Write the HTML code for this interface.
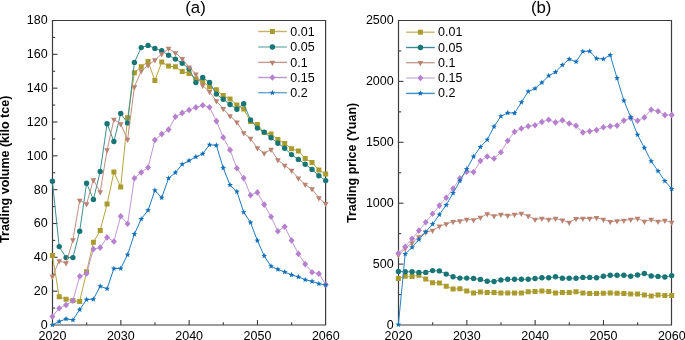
<!DOCTYPE html>
<html><head><meta charset="utf-8"><title>chart</title>
<style>
html,body{margin:0;padding:0;background:#fff;overflow:hidden;}
svg{display:block;will-change:transform;}
</style></head><body>
<svg width="685" height="340" viewBox="0 0 685 340">
<rect width="685" height="340" fill="#fff"/>
<g font-family='"Liberation Sans", sans-serif' font-size="12.5" fill="#000">
<g stroke="#3c3c3c" stroke-width="1.2" fill="none">
<path d="M52.5,20.5 H325.6 V325.0 H52.5 Z"/>
</g>
<g stroke="#3c3c3c" stroke-width="1.1">
<line x1="86.66" y1="325.0" x2="86.66" y2="322.3"/>
<line x1="120.83" y1="325.0" x2="120.83" y2="320.0"/>
<line x1="154.99" y1="325.0" x2="154.99" y2="322.3"/>
<line x1="189.15" y1="325.0" x2="189.15" y2="320.0"/>
<line x1="223.31" y1="325.0" x2="223.31" y2="322.3"/>
<line x1="257.48" y1="325.0" x2="257.48" y2="320.0"/>
<line x1="291.64" y1="325.0" x2="291.64" y2="322.3"/>
</g>
<text x="52.50" y="339.6" text-anchor="middle">2020</text>
<text x="120.83" y="339.6" text-anchor="middle">2030</text>
<text x="189.15" y="339.6" text-anchor="middle">2040</text>
<text x="257.48" y="339.6" text-anchor="middle">2050</text>
<text x="325.80" y="339.6" text-anchor="middle">2060</text>
<g stroke="#3c3c3c" stroke-width="1.1">
<line x1="52.5" y1="308.08" x2="55.2" y2="308.08"/>
<line x1="52.5" y1="291.17" x2="57.5" y2="291.17"/>
<line x1="52.5" y1="274.25" x2="55.2" y2="274.25"/>
<line x1="52.5" y1="257.33" x2="57.5" y2="257.33"/>
<line x1="52.5" y1="240.42" x2="55.2" y2="240.42"/>
<line x1="52.5" y1="223.50" x2="57.5" y2="223.50"/>
<line x1="52.5" y1="206.58" x2="55.2" y2="206.58"/>
<line x1="52.5" y1="189.67" x2="57.5" y2="189.67"/>
<line x1="52.5" y1="172.75" x2="55.2" y2="172.75"/>
<line x1="52.5" y1="155.83" x2="57.5" y2="155.83"/>
<line x1="52.5" y1="138.92" x2="55.2" y2="138.92"/>
<line x1="52.5" y1="122.00" x2="57.5" y2="122.00"/>
<line x1="52.5" y1="105.08" x2="55.2" y2="105.08"/>
<line x1="52.5" y1="88.17" x2="57.5" y2="88.17"/>
<line x1="52.5" y1="71.25" x2="55.2" y2="71.25"/>
<line x1="52.5" y1="54.33" x2="57.5" y2="54.33"/>
<line x1="52.5" y1="37.42" x2="55.2" y2="37.42"/>
</g>
<text x="47.70" y="329.30" text-anchor="end">0</text>
<text x="47.70" y="295.36" text-anchor="end">20</text>
<text x="47.70" y="261.41" text-anchor="end">40</text>
<text x="47.70" y="227.47" text-anchor="end">60</text>
<text x="47.70" y="193.52" text-anchor="end">80</text>
<text x="47.70" y="159.58" text-anchor="end">100</text>
<text x="47.70" y="125.63" text-anchor="end">120</text>
<text x="47.70" y="91.69" text-anchor="end">140</text>
<text x="47.70" y="57.74" text-anchor="end">160</text>
<text x="47.70" y="23.80" text-anchor="end">180</text>
<line x1="258.2" y1="31.5" x2="286.9" y2="31.5" stroke="#c3b464" stroke-width="1.4" stroke-opacity="1.0"/>
<path fill="#ab9b2e" d="M269.90,29.00h5v5h-5Z"/>
<text x="290.3" y="35.90">0.01</text>
<line x1="258.2" y1="47.0" x2="286.9" y2="47.0" stroke="#7db4b4" stroke-width="1.4" stroke-opacity="1.0"/>
<path fill="#177575" d="M269.70,47.00a2.7,2.7 0 1,0 5.4,0a2.7,2.7 0 1,0 -5.4,0Z"/>
<text x="290.3" y="51.40">0.05</text>
<line x1="258.2" y1="62.4" x2="286.9" y2="62.4" stroke="#c39b8c" stroke-width="1.4" stroke-opacity="1.0"/>
<path fill="#ba8270" d="M269.55,60.65L275.25,60.65L272.40,65.90Z"/>
<text x="290.3" y="66.80">0.1</text>
<line x1="258.2" y1="77.5" x2="286.9" y2="77.5" stroke="#b996cd" stroke-width="1.4" stroke-opacity="1.0"/>
<path fill="#b680cf" d="M272.40,74.20L275.40,77.50L272.40,80.80L269.40,77.50Z"/>
<text x="290.3" y="81.90">0.15</text>
<line x1="258.2" y1="92.7" x2="286.9" y2="92.7" stroke="#64a5d2" stroke-width="1.4" stroke-opacity="1.0"/>
<path fill="#1270b9" d="M272.40,89.65L273.16,91.65L275.30,91.76L273.64,93.10L274.19,95.17L272.40,94.00L270.61,95.17L271.16,93.10L269.50,91.76L271.64,91.65Z"/>
<text x="290.3" y="97.10">0.2</text>
<path d="M52.4,255.4 L59.2,296.7 L66.1,299.2 L72.9,300.6 L79.7,301.4 L86.6,271.7 L93.4,242.2 L100.2,230.5 L107.1,204.0 L113.9,172.0 L120.7,187.1 L127.6,117.8 L134.4,72.7 L141.2,66.8 L148.1,61.6 L154.9,80.5 L161.7,62.1 L168.6,66.1 L175.4,66.8 L182.2,71.6 L189.1,73.5 L195.9,79.0 L202.7,81.6 L209.5,87.1 L216.4,89.7 L223.2,95.6 L230.0,98.9 L236.9,105.0 L243.7,109.0 L250.5,121.5 L257.4,124.4 L264.2,132.5 L271.0,134.0 L277.9,139.5 L284.7,143.5 L291.5,148.8 L298.4,150.9 L305.2,158.5 L312.0,162.5 L318.9,170.0 L325.7,174.0" fill="none" stroke="#b8a63c" stroke-width="1.0" stroke-opacity="1.0" stroke-linejoin="round"/>
<path fill="#ab9b2e" d="M49.90,252.90h5v5h-5ZM56.73,294.20h5v5h-5ZM63.56,296.70h5v5h-5ZM70.40,298.10h5v5h-5ZM77.23,298.90h5v5h-5ZM84.06,269.20h5v5h-5ZM90.90,239.70h5v5h-5ZM97.73,228.00h5v5h-5ZM104.56,201.50h5v5h-5ZM111.39,169.50h5v5h-5ZM118.22,184.60h5v5h-5ZM125.06,115.30h5v5h-5ZM131.89,70.20h5v5h-5ZM138.72,64.30h5v5h-5ZM145.56,59.10h5v5h-5ZM152.39,78.00h5v5h-5ZM159.22,59.60h5v5h-5ZM166.05,63.60h5v5h-5ZM172.89,64.30h5v5h-5ZM179.72,69.10h5v5h-5ZM186.55,71.00h5v5h-5ZM193.38,76.50h5v5h-5ZM200.22,79.10h5v5h-5ZM207.05,84.60h5v5h-5ZM213.88,87.20h5v5h-5ZM220.71,93.10h5v5h-5ZM227.55,96.40h5v5h-5ZM234.38,102.50h5v5h-5ZM241.21,106.50h5v5h-5ZM248.04,119.00h5v5h-5ZM254.88,121.90h5v5h-5ZM261.71,130.00h5v5h-5ZM268.54,131.50h5v5h-5ZM275.37,137.00h5v5h-5ZM282.20,141.00h5v5h-5ZM289.04,146.30h5v5h-5ZM295.87,148.40h5v5h-5ZM302.70,156.00h5v5h-5ZM309.53,160.00h5v5h-5ZM316.37,167.50h5v5h-5ZM323.20,171.50h5v5h-5Z"/>
<path d="M52.4,181.2 L59.2,246.6 L66.1,257.6 L72.9,257.6 L79.7,231.2 L86.6,183.3 L93.4,199.5 L100.2,171.5 L107.1,123.7 L113.9,141.5 L120.7,113.5 L127.6,122.9 L134.4,62.4 L141.2,47.6 L148.1,45.4 L154.9,48.4 L161.7,50.8 L168.6,55.2 L175.4,59.1 L182.2,63.2 L189.1,68.7 L195.9,82.6 L202.7,77.5 L209.5,82.5 L216.4,94.1 L223.2,99.3 L230.0,104.5 L236.9,109.2 L243.7,103.8 L250.5,120.0 L257.4,128.1 L264.2,132.1 L271.0,137.8 L277.9,143.2 L284.7,148.3 L291.5,154.6 L298.4,159.4 L305.2,164.3 L312.0,169.4 L318.9,175.8 L325.7,180.6" fill="none" stroke="#3f8f8f" stroke-width="1.0" stroke-opacity="1.0" stroke-linejoin="round"/>
<path fill="#177575" d="M49.70,181.20a2.7,2.7 0 1,0 5.4,0a2.7,2.7 0 1,0 -5.4,0ZM56.53,246.60a2.7,2.7 0 1,0 5.4,0a2.7,2.7 0 1,0 -5.4,0ZM63.36,257.60a2.7,2.7 0 1,0 5.4,0a2.7,2.7 0 1,0 -5.4,0ZM70.20,257.60a2.7,2.7 0 1,0 5.4,0a2.7,2.7 0 1,0 -5.4,0ZM77.03,231.20a2.7,2.7 0 1,0 5.4,0a2.7,2.7 0 1,0 -5.4,0ZM83.86,183.30a2.7,2.7 0 1,0 5.4,0a2.7,2.7 0 1,0 -5.4,0ZM90.70,199.50a2.7,2.7 0 1,0 5.4,0a2.7,2.7 0 1,0 -5.4,0ZM97.53,171.50a2.7,2.7 0 1,0 5.4,0a2.7,2.7 0 1,0 -5.4,0ZM104.36,123.70a2.7,2.7 0 1,0 5.4,0a2.7,2.7 0 1,0 -5.4,0ZM111.19,141.50a2.7,2.7 0 1,0 5.4,0a2.7,2.7 0 1,0 -5.4,0ZM118.02,113.50a2.7,2.7 0 1,0 5.4,0a2.7,2.7 0 1,0 -5.4,0ZM124.86,122.90a2.7,2.7 0 1,0 5.4,0a2.7,2.7 0 1,0 -5.4,0ZM131.69,62.40a2.7,2.7 0 1,0 5.4,0a2.7,2.7 0 1,0 -5.4,0ZM138.52,47.60a2.7,2.7 0 1,0 5.4,0a2.7,2.7 0 1,0 -5.4,0ZM145.36,45.40a2.7,2.7 0 1,0 5.4,0a2.7,2.7 0 1,0 -5.4,0ZM152.19,48.40a2.7,2.7 0 1,0 5.4,0a2.7,2.7 0 1,0 -5.4,0ZM159.02,50.80a2.7,2.7 0 1,0 5.4,0a2.7,2.7 0 1,0 -5.4,0ZM165.85,55.20a2.7,2.7 0 1,0 5.4,0a2.7,2.7 0 1,0 -5.4,0ZM172.69,59.10a2.7,2.7 0 1,0 5.4,0a2.7,2.7 0 1,0 -5.4,0ZM179.52,63.20a2.7,2.7 0 1,0 5.4,0a2.7,2.7 0 1,0 -5.4,0ZM186.35,68.70a2.7,2.7 0 1,0 5.4,0a2.7,2.7 0 1,0 -5.4,0ZM193.18,82.60a2.7,2.7 0 1,0 5.4,0a2.7,2.7 0 1,0 -5.4,0ZM200.02,77.50a2.7,2.7 0 1,0 5.4,0a2.7,2.7 0 1,0 -5.4,0ZM206.85,82.50a2.7,2.7 0 1,0 5.4,0a2.7,2.7 0 1,0 -5.4,0ZM213.68,94.10a2.7,2.7 0 1,0 5.4,0a2.7,2.7 0 1,0 -5.4,0ZM220.51,99.30a2.7,2.7 0 1,0 5.4,0a2.7,2.7 0 1,0 -5.4,0ZM227.35,104.50a2.7,2.7 0 1,0 5.4,0a2.7,2.7 0 1,0 -5.4,0ZM234.18,109.20a2.7,2.7 0 1,0 5.4,0a2.7,2.7 0 1,0 -5.4,0ZM241.01,103.80a2.7,2.7 0 1,0 5.4,0a2.7,2.7 0 1,0 -5.4,0ZM247.84,120.00a2.7,2.7 0 1,0 5.4,0a2.7,2.7 0 1,0 -5.4,0ZM254.68,128.10a2.7,2.7 0 1,0 5.4,0a2.7,2.7 0 1,0 -5.4,0ZM261.51,132.10a2.7,2.7 0 1,0 5.4,0a2.7,2.7 0 1,0 -5.4,0ZM268.34,137.80a2.7,2.7 0 1,0 5.4,0a2.7,2.7 0 1,0 -5.4,0ZM275.17,143.20a2.7,2.7 0 1,0 5.4,0a2.7,2.7 0 1,0 -5.4,0ZM282.00,148.30a2.7,2.7 0 1,0 5.4,0a2.7,2.7 0 1,0 -5.4,0ZM288.84,154.60a2.7,2.7 0 1,0 5.4,0a2.7,2.7 0 1,0 -5.4,0ZM295.67,159.40a2.7,2.7 0 1,0 5.4,0a2.7,2.7 0 1,0 -5.4,0ZM302.50,164.30a2.7,2.7 0 1,0 5.4,0a2.7,2.7 0 1,0 -5.4,0ZM309.33,169.40a2.7,2.7 0 1,0 5.4,0a2.7,2.7 0 1,0 -5.4,0ZM316.17,175.80a2.7,2.7 0 1,0 5.4,0a2.7,2.7 0 1,0 -5.4,0ZM323.00,180.60a2.7,2.7 0 1,0 5.4,0a2.7,2.7 0 1,0 -5.4,0Z"/>
<path d="M52.4,276.5 L59.2,261.0 L66.1,263.1 L72.9,240.0 L79.7,200.4 L86.6,204.0 L93.4,179.9 L100.2,192.1 L107.1,150.0 L113.9,119.4 L120.7,124.1 L127.6,139.6 L134.4,86.9 L141.2,71.1 L148.1,65.3 L154.9,60.1 L161.7,54.0 L168.6,48.6 L175.4,52.9 L182.2,58.8 L189.1,67.2 L195.9,74.2 L202.7,85.6 L209.5,91.8 L216.4,101.0 L223.2,108.8 L230.0,116.0 L236.9,122.2 L243.7,132.9 L250.5,138.6 L257.4,148.0 L264.2,153.2 L271.0,149.5 L277.9,160.0 L284.7,165.4 L291.5,170.6 L298.4,178.2 L305.2,184.4 L312.0,189.1 L318.9,197.9 L325.7,203.8" fill="none" stroke="#c08e80" stroke-width="1.0" stroke-opacity="1.0" stroke-linejoin="round"/>
<path fill="#ba8270" d="M49.55,274.75L55.25,274.75L52.40,280.00ZM56.38,259.25L62.08,259.25L59.23,264.50ZM63.21,261.35L68.91,261.35L66.06,266.60ZM70.05,238.25L75.75,238.25L72.90,243.50ZM76.88,198.65L82.58,198.65L79.73,203.90ZM83.71,202.25L89.41,202.25L86.56,207.50ZM90.55,178.15L96.25,178.15L93.40,183.40ZM97.38,190.35L103.08,190.35L100.23,195.60ZM104.21,148.25L109.91,148.25L107.06,153.50ZM111.04,117.65L116.74,117.65L113.89,122.90ZM117.88,122.35L123.57,122.35L120.72,127.60ZM124.71,137.85L130.41,137.85L127.56,143.10ZM131.54,85.15L137.24,85.15L134.39,90.40ZM138.37,69.35L144.07,69.35L141.22,74.60ZM145.21,63.55L150.91,63.55L148.06,68.80ZM152.04,58.35L157.74,58.35L154.89,63.60ZM158.87,52.25L164.57,52.25L161.72,57.50ZM165.70,46.85L171.40,46.85L168.55,52.10ZM172.54,51.15L178.24,51.15L175.39,56.40ZM179.37,57.05L185.07,57.05L182.22,62.30ZM186.20,65.45L191.90,65.45L189.05,70.70ZM193.03,72.45L198.73,72.45L195.88,77.70ZM199.87,83.85L205.56,83.85L202.72,89.10ZM206.70,90.05L212.40,90.05L209.55,95.30ZM213.53,99.25L219.23,99.25L216.38,104.50ZM220.36,107.05L226.06,107.05L223.21,112.30ZM227.20,114.25L232.90,114.25L230.05,119.50ZM234.03,120.45L239.73,120.45L236.88,125.70ZM240.86,131.15L246.56,131.15L243.71,136.40ZM247.69,136.85L253.39,136.85L250.54,142.10ZM254.53,146.25L260.23,146.25L257.38,151.50ZM261.36,151.45L267.06,151.45L264.21,156.70ZM268.19,147.75L273.89,147.75L271.04,153.00ZM275.02,158.25L280.72,158.25L277.87,163.50ZM281.85,163.65L287.56,163.65L284.70,168.90ZM288.69,168.85L294.39,168.85L291.54,174.10ZM295.52,176.45L301.22,176.45L298.37,181.70ZM302.35,182.65L308.05,182.65L305.20,187.90ZM309.18,187.35L314.88,187.35L312.03,192.60ZM316.02,196.15L321.72,196.15L318.87,201.40ZM322.85,202.05L328.55,202.05L325.70,207.30Z"/>
<path d="M52.4,316.5 L59.2,308.3 L66.1,305.0 L72.9,300.8 L79.7,276.3 L86.6,273.5 L93.4,249.1 L100.2,247.6 L107.1,237.4 L113.9,241.5 L120.7,216.2 L127.6,223.8 L134.4,178.2 L141.2,172.4 L148.1,167.5 L154.9,140.0 L161.7,134.1 L168.6,129.6 L175.4,116.8 L182.2,112.9 L189.1,110.0 L195.9,107.4 L202.7,105.2 L209.5,107.3 L216.4,121.1 L223.2,137.4 L230.0,149.9 L236.9,168.3 L243.7,178.1 L250.5,195.2 L257.4,192.4 L264.2,204.6 L271.0,216.8 L277.9,231.3 L284.7,226.7 L291.5,240.4 L298.4,253.9 L305.2,264.1 L312.0,272.2 L318.9,273.7 L325.7,284.4" fill="none" stroke="#c196d8" stroke-width="1.0" stroke-opacity="1.0" stroke-linejoin="round"/>
<path fill="#b680cf" d="M52.40,313.20L55.40,316.50L52.40,319.80L49.40,316.50ZM59.23,305.00L62.23,308.30L59.23,311.60L56.23,308.30ZM66.06,301.70L69.06,305.00L66.06,308.30L63.06,305.00ZM72.90,297.50L75.90,300.80L72.90,304.10L69.90,300.80ZM79.73,273.00L82.73,276.30L79.73,279.60L76.73,276.30ZM86.56,270.20L89.56,273.50L86.56,276.80L83.56,273.50ZM93.40,245.80L96.40,249.10L93.40,252.40L90.40,249.10ZM100.23,244.30L103.23,247.60L100.23,250.90L97.23,247.60ZM107.06,234.10L110.06,237.40L107.06,240.70L104.06,237.40ZM113.89,238.20L116.89,241.50L113.89,244.80L110.89,241.50ZM120.72,212.90L123.72,216.20L120.72,219.50L117.72,216.20ZM127.56,220.50L130.56,223.80L127.56,227.10L124.56,223.80ZM134.39,174.90L137.39,178.20L134.39,181.50L131.39,178.20ZM141.22,169.10L144.22,172.40L141.22,175.70L138.22,172.40ZM148.06,164.20L151.06,167.50L148.06,170.80L145.06,167.50ZM154.89,136.70L157.89,140.00L154.89,143.30L151.89,140.00ZM161.72,130.80L164.72,134.10L161.72,137.40L158.72,134.10ZM168.55,126.30L171.55,129.60L168.55,132.90L165.55,129.60ZM175.39,113.50L178.39,116.80L175.39,120.10L172.39,116.80ZM182.22,109.60L185.22,112.90L182.22,116.20L179.22,112.90ZM189.05,106.70L192.05,110.00L189.05,113.30L186.05,110.00ZM195.88,104.10L198.88,107.40L195.88,110.70L192.88,107.40ZM202.72,101.90L205.72,105.20L202.72,108.50L199.72,105.20ZM209.55,104.00L212.55,107.30L209.55,110.60L206.55,107.30ZM216.38,117.80L219.38,121.10L216.38,124.40L213.38,121.10ZM223.21,134.10L226.21,137.40L223.21,140.70L220.21,137.40ZM230.05,146.60L233.05,149.90L230.05,153.20L227.05,149.90ZM236.88,165.00L239.88,168.30L236.88,171.60L233.88,168.30ZM243.71,174.80L246.71,178.10L243.71,181.40L240.71,178.10ZM250.54,191.90L253.54,195.20L250.54,198.50L247.54,195.20ZM257.38,189.10L260.38,192.40L257.38,195.70L254.38,192.40ZM264.21,201.30L267.21,204.60L264.21,207.90L261.21,204.60ZM271.04,213.50L274.04,216.80L271.04,220.10L268.04,216.80ZM277.87,228.00L280.87,231.30L277.87,234.60L274.87,231.30ZM284.70,223.40L287.70,226.70L284.70,230.00L281.70,226.70ZM291.54,237.10L294.54,240.40L291.54,243.70L288.54,240.40ZM298.37,250.60L301.37,253.90L298.37,257.20L295.37,253.90ZM305.20,260.80L308.20,264.10L305.20,267.40L302.20,264.10ZM312.03,268.90L315.03,272.20L312.03,275.50L309.03,272.20ZM318.87,270.40L321.87,273.70L318.87,277.00L315.87,273.70ZM325.70,281.10L328.70,284.40L325.70,287.70L322.70,284.40Z"/>
<path d="M52.4,324.9 L59.2,321.5 L66.1,318.9 L72.9,320.0 L79.7,309.6 L86.6,299.6 L93.4,299.2 L100.2,286.2 L107.1,288.8 L113.9,268.5 L120.7,268.5 L127.6,254.7 L134.4,234.1 L141.2,219.0 L148.1,210.3 L154.9,190.4 L161.7,197.7 L168.6,178.2 L175.4,172.6 L182.2,164.3 L189.1,160.6 L195.9,156.9 L202.7,153.8 L209.5,144.7 L216.4,145.4 L223.2,167.9 L230.0,185.0 L236.9,191.6 L243.7,212.2 L250.5,222.5 L257.4,240.6 L264.2,255.9 L271.0,266.2 L277.9,269.4 L284.7,272.0 L291.5,274.9 L298.4,276.9 L305.2,279.7 L312.0,281.4 L318.9,283.7 L325.7,285.0" fill="none" stroke="#1f79be" stroke-width="1.0" stroke-opacity="1.0" stroke-linejoin="round"/>
<path fill="#1270b9" d="M52.40,321.85L53.16,323.85L55.30,323.96L53.64,325.30L54.19,327.37L52.40,326.20L50.61,327.37L51.16,325.30L49.50,323.96L51.64,323.85ZM59.23,318.45L60.00,320.45L62.13,320.56L60.47,321.90L61.03,323.97L59.23,322.80L57.44,323.97L58.00,321.90L56.33,320.56L58.47,320.45ZM66.06,315.85L66.83,317.85L68.97,317.96L67.30,319.30L67.86,321.37L66.06,320.20L64.27,321.37L64.83,319.30L63.16,317.96L65.30,317.85ZM72.90,316.95L73.66,318.95L75.80,319.06L74.13,320.40L74.69,322.47L72.90,321.30L71.10,322.47L71.66,320.40L70.00,319.06L72.13,318.95ZM79.73,306.55L80.49,308.55L82.63,308.66L80.97,310.00L81.52,312.07L79.73,310.90L77.94,312.07L78.49,310.00L76.83,308.66L78.97,308.55ZM86.56,296.55L87.33,298.55L89.46,298.66L87.80,300.00L88.36,302.07L86.56,300.90L84.77,302.07L85.33,300.00L83.66,298.66L85.80,298.55ZM93.40,296.15L94.16,298.15L96.30,298.26L94.63,299.60L95.19,301.67L93.40,300.50L91.60,301.67L92.16,299.60L90.49,298.26L92.63,298.15ZM100.23,283.15L100.99,285.15L103.13,285.26L101.46,286.60L102.02,288.67L100.23,287.50L98.43,288.67L98.99,286.60L97.33,285.26L99.46,285.15ZM107.06,285.75L107.82,287.75L109.96,287.86L108.30,289.20L108.85,291.27L107.06,290.10L105.27,291.27L105.82,289.20L104.16,287.86L106.30,287.75ZM113.89,265.45L114.66,267.45L116.79,267.56L115.13,268.90L115.69,270.97L113.89,269.80L112.10,270.97L112.66,268.90L110.99,267.56L113.13,267.45ZM120.72,265.45L121.49,267.45L123.63,267.56L121.96,268.90L122.52,270.97L120.72,269.80L118.93,270.97L119.49,268.90L117.82,267.56L119.96,267.45ZM127.56,251.65L128.32,253.65L130.46,253.76L128.79,255.10L129.35,257.17L127.56,256.00L125.76,257.17L126.32,255.10L124.66,253.76L126.79,253.65ZM134.39,231.05L135.15,233.05L137.29,233.16L135.63,234.50L136.18,236.57L134.39,235.40L132.60,236.57L133.15,234.50L131.49,233.16L133.63,233.05ZM141.22,215.95L141.99,217.95L144.12,218.06L142.46,219.40L143.02,221.47L141.22,220.30L139.43,221.47L139.99,219.40L138.32,218.06L140.46,217.95ZM148.06,207.25L148.82,209.25L150.96,209.36L149.29,210.70L149.85,212.77L148.06,211.60L146.26,212.77L146.82,210.70L145.15,209.36L147.29,209.25ZM154.89,187.35L155.65,189.35L157.79,189.46L156.12,190.80L156.68,192.87L154.89,191.70L153.09,192.87L153.65,190.80L151.99,189.46L154.12,189.35ZM161.72,194.65L162.48,196.65L164.62,196.76L162.96,198.10L163.51,200.17L161.72,199.00L159.93,200.17L160.48,198.10L158.82,196.76L160.96,196.65ZM168.55,175.15L169.32,177.15L171.45,177.26L169.79,178.60L170.35,180.67L168.55,179.50L166.76,180.67L167.32,178.60L165.65,177.26L167.79,177.15ZM175.39,169.55L176.15,171.55L178.29,171.66L176.62,173.00L177.18,175.07L175.39,173.90L173.59,175.07L174.15,173.00L172.48,171.66L174.62,171.55ZM182.22,161.25L182.98,163.25L185.12,163.36L183.45,164.70L184.01,166.77L182.22,165.60L180.42,166.77L180.98,164.70L179.32,163.36L181.45,163.25ZM189.05,157.55L189.81,159.55L191.95,159.66L190.29,161.00L190.84,163.07L189.05,161.90L187.26,163.07L187.81,161.00L186.15,159.66L188.29,159.55ZM195.88,153.85L196.65,155.85L198.78,155.96L197.12,157.30L197.68,159.37L195.88,158.20L194.09,159.37L194.65,157.30L192.98,155.96L195.12,155.85ZM202.72,150.75L203.48,152.75L205.62,152.86L203.95,154.20L204.51,156.27L202.72,155.10L200.92,156.27L201.48,154.20L199.81,152.86L201.95,152.75ZM209.55,141.65L210.31,143.65L212.45,143.76L210.78,145.10L211.34,147.17L209.55,146.00L207.75,147.17L208.31,145.10L206.65,143.76L208.78,143.65ZM216.38,142.35L217.14,144.35L219.28,144.46L217.62,145.80L218.17,147.87L216.38,146.70L214.59,147.87L215.14,145.80L213.48,144.46L215.62,144.35ZM223.21,164.85L223.98,166.85L226.11,166.96L224.45,168.30L225.01,170.37L223.21,169.20L221.42,170.37L221.98,168.30L220.31,166.96L222.45,166.85ZM230.05,181.95L230.81,183.95L232.95,184.06L231.28,185.40L231.84,187.47L230.05,186.30L228.25,187.47L228.81,185.40L227.14,184.06L229.28,183.95ZM236.88,188.55L237.64,190.55L239.78,190.66L238.11,192.00L238.67,194.07L236.88,192.90L235.08,194.07L235.64,192.00L233.98,190.66L236.11,190.55ZM243.71,209.15L244.47,211.15L246.61,211.26L244.95,212.60L245.50,214.67L243.71,213.50L241.92,214.67L242.47,212.60L240.81,211.26L242.95,211.15ZM250.54,219.45L251.31,221.45L253.44,221.56L251.78,222.90L252.34,224.97L250.54,223.80L248.75,224.97L249.31,222.90L247.64,221.56L249.78,221.45ZM257.38,237.55L258.14,239.55L260.28,239.66L258.61,241.00L259.17,243.07L257.38,241.90L255.58,243.07L256.14,241.00L254.47,239.66L256.61,239.55ZM264.21,252.85L264.97,254.85L267.11,254.96L265.44,256.30L266.00,258.37L264.21,257.20L262.41,258.37L262.97,256.30L261.31,254.96L263.44,254.85ZM271.04,263.15L271.80,265.15L273.94,265.26L272.28,266.60L272.83,268.67L271.04,267.50L269.25,268.67L269.80,266.60L268.14,265.26L270.28,265.15ZM277.87,266.35L278.64,268.35L280.77,268.46L279.11,269.80L279.67,271.87L277.87,270.70L276.08,271.87L276.64,269.80L274.97,268.46L277.11,268.35ZM284.70,268.95L285.47,270.95L287.61,271.06L285.94,272.40L286.50,274.47L284.70,273.30L282.91,274.47L283.47,272.40L281.80,271.06L283.94,270.95ZM291.54,271.85L292.30,273.85L294.44,273.96L292.77,275.30L293.33,277.37L291.54,276.20L289.74,277.37L290.30,275.30L288.64,273.96L290.77,273.85ZM298.37,273.85L299.13,275.85L301.27,275.96L299.61,277.30L300.16,279.37L298.37,278.20L296.58,279.37L297.13,277.30L295.47,275.96L297.61,275.85ZM305.20,276.65L305.97,278.65L308.10,278.76L306.44,280.10L307.00,282.17L305.20,281.00L303.41,282.17L303.97,280.10L302.30,278.76L304.44,278.65ZM312.03,278.35L312.80,280.35L314.94,280.46L313.27,281.80L313.83,283.87L312.03,282.70L310.24,283.87L310.80,281.80L309.13,280.46L311.27,280.35ZM318.87,280.65L319.63,282.65L321.77,282.76L320.10,284.10L320.66,286.17L318.87,285.00L317.07,286.17L317.63,284.10L315.97,282.76L318.10,282.65ZM325.70,281.95L326.46,283.95L328.60,284.06L326.94,285.40L327.49,287.47L325.70,286.30L323.91,287.47L324.46,285.40L322.80,284.06L324.94,283.95Z"/>
<g stroke="#3c3c3c" stroke-width="1.2" fill="none">
<path d="M398.5,20.5 H671.5 V325.0 H398.5 Z"/>
</g>
<g stroke="#3c3c3c" stroke-width="1.1">
<line x1="432.66" y1="325.0" x2="432.66" y2="322.3"/>
<line x1="466.82" y1="325.0" x2="466.82" y2="320.0"/>
<line x1="500.99" y1="325.0" x2="500.99" y2="322.3"/>
<line x1="535.15" y1="325.0" x2="535.15" y2="320.0"/>
<line x1="569.31" y1="325.0" x2="569.31" y2="322.3"/>
<line x1="603.48" y1="325.0" x2="603.48" y2="320.0"/>
<line x1="637.64" y1="325.0" x2="637.64" y2="322.3"/>
</g>
<text x="398.50" y="339.6" text-anchor="middle">2020</text>
<text x="466.82" y="339.6" text-anchor="middle">2030</text>
<text x="535.15" y="339.6" text-anchor="middle">2040</text>
<text x="603.48" y="339.6" text-anchor="middle">2050</text>
<text x="671.80" y="339.6" text-anchor="middle">2060</text>
<g stroke="#3c3c3c" stroke-width="1.1">
<line x1="398.5" y1="294.55" x2="401.2" y2="294.55"/>
<line x1="398.5" y1="264.10" x2="403.5" y2="264.10"/>
<line x1="398.5" y1="233.65" x2="401.2" y2="233.65"/>
<line x1="398.5" y1="203.20" x2="403.5" y2="203.20"/>
<line x1="398.5" y1="172.75" x2="401.2" y2="172.75"/>
<line x1="398.5" y1="142.30" x2="403.5" y2="142.30"/>
<line x1="398.5" y1="111.85" x2="401.2" y2="111.85"/>
<line x1="398.5" y1="81.40" x2="403.5" y2="81.40"/>
<line x1="398.5" y1="50.95" x2="401.2" y2="50.95"/>
</g>
<text x="393.70" y="329.30" text-anchor="end">0</text>
<text x="393.70" y="268.20" text-anchor="end">500</text>
<text x="393.70" y="207.10" text-anchor="end">1000</text>
<text x="393.70" y="146.00" text-anchor="end">1500</text>
<text x="393.70" y="84.90" text-anchor="end">2000</text>
<text x="393.70" y="23.80" text-anchor="end">2500</text>
<line x1="406.1" y1="32.2" x2="434.8" y2="32.2" stroke="#c8b96e" stroke-width="1.4" stroke-opacity="1.0"/>
<path fill="#ab9b2e" d="M417.90,29.70h5v5h-5Z"/>
<text x="438.1" y="36.20">0.01</text>
<line x1="406.1" y1="47.5" x2="434.8" y2="47.5" stroke="#3c8c8c" stroke-width="1.4" stroke-opacity="1.0"/>
<path fill="#177575" d="M417.70,47.50a2.7,2.7 0 1,0 5.4,0a2.7,2.7 0 1,0 -5.4,0Z"/>
<text x="438.1" y="51.50">0.05</text>
<line x1="406.1" y1="62.7" x2="434.8" y2="62.7" stroke="#c3a091" stroke-width="1.4" stroke-opacity="1.0"/>
<path fill="#ba8270" d="M417.55,60.95L423.25,60.95L420.40,66.20Z"/>
<text x="438.1" y="66.70">0.1</text>
<line x1="406.1" y1="78.0" x2="434.8" y2="78.0" stroke="#cdb9dc" stroke-width="1.4" stroke-opacity="1.0"/>
<path fill="#b680cf" d="M420.40,74.70L423.40,78.00L420.40,81.30L417.40,78.00Z"/>
<text x="438.1" y="82.00">0.15</text>
<line x1="406.1" y1="93.4" x2="434.8" y2="93.4" stroke="#3c91c8" stroke-width="1.4" stroke-opacity="1.0"/>
<path fill="#1270b9" d="M420.40,90.35L421.16,92.35L423.30,92.46L421.64,93.80L422.19,95.87L420.40,94.70L418.61,95.87L419.16,93.80L417.50,92.46L419.64,92.35Z"/>
<text x="438.1" y="97.40">0.2</text>
<path d="M398.4,278.6 L405.2,276.2 L412.1,276.5 L418.9,275.3 L425.7,279.1 L432.6,282.7 L439.4,282.9 L446.2,286.2 L453.1,289.1 L459.9,288.8 L466.7,291.0 L473.6,292.9 L480.4,292.0 L487.2,292.5 L494.1,292.5 L500.9,292.9 L507.7,292.9 L514.6,292.9 L521.4,292.9 L528.2,291.8 L535.0,291.5 L541.9,291.0 L548.7,291.5 L555.5,292.9 L562.4,292.5 L569.2,292.5 L576.0,291.8 L582.9,292.9 L589.7,293.5 L596.5,293.5 L603.4,293.2 L610.2,292.9 L617.0,293.2 L623.9,293.5 L630.7,294.0 L637.5,294.0 L644.4,295.0 L651.2,295.9 L658.0,295.0 L664.9,295.5 L671.7,295.5" fill="none" stroke="#c0b04a" stroke-width="1.0" stroke-opacity="1.0" stroke-linejoin="round"/>
<path fill="#ab9b2e" d="M395.90,276.10h5v5h-5ZM402.73,273.70h5v5h-5ZM409.56,274.00h5v5h-5ZM416.40,272.80h5v5h-5ZM423.23,276.60h5v5h-5ZM430.06,280.20h5v5h-5ZM436.89,280.40h5v5h-5ZM443.73,283.70h5v5h-5ZM450.56,286.60h5v5h-5ZM457.39,286.30h5v5h-5ZM464.22,288.50h5v5h-5ZM471.06,290.40h5v5h-5ZM477.89,289.50h5v5h-5ZM484.72,290.00h5v5h-5ZM491.55,290.00h5v5h-5ZM498.39,290.40h5v5h-5ZM505.22,290.40h5v5h-5ZM512.05,290.40h5v5h-5ZM518.88,290.40h5v5h-5ZM525.72,289.30h5v5h-5ZM532.55,289.00h5v5h-5ZM539.38,288.50h5v5h-5ZM546.21,289.00h5v5h-5ZM553.05,290.40h5v5h-5ZM559.88,290.00h5v5h-5ZM566.71,290.00h5v5h-5ZM573.54,289.30h5v5h-5ZM580.38,290.40h5v5h-5ZM587.21,291.00h5v5h-5ZM594.04,291.00h5v5h-5ZM600.88,290.70h5v5h-5ZM607.71,290.40h5v5h-5ZM614.54,290.70h5v5h-5ZM621.37,291.00h5v5h-5ZM628.20,291.50h5v5h-5ZM635.04,291.50h5v5h-5ZM641.87,292.50h5v5h-5ZM648.70,293.40h5v5h-5ZM655.53,292.50h5v5h-5ZM662.37,293.00h5v5h-5ZM669.20,293.00h5v5h-5Z"/>
<path d="M398.4,271.4 L405.2,271.8 L412.1,271.8 L418.9,272.4 L425.7,272.4 L432.6,270.6 L439.4,270.9 L446.2,274.1 L453.1,276.8 L459.9,278.1 L466.7,278.1 L473.6,278.5 L480.4,279.4 L487.2,281.2 L494.1,281.5 L500.9,280.0 L507.7,279.3 L514.6,279.3 L521.4,279.3 L528.2,279.3 L535.0,278.5 L541.9,277.8 L548.7,277.8 L555.5,276.8 L562.4,278.2 L569.2,278.2 L576.0,278.2 L582.9,277.4 L589.7,277.4 L596.5,277.8 L603.4,276.3 L610.2,275.3 L617.0,275.3 L623.9,275.3 L630.7,276.3 L637.5,275.0 L644.4,273.5 L651.2,276.0 L658.0,276.4 L664.9,277.0 L671.7,275.6" fill="none" stroke="#3a8a8a" stroke-width="1.0" stroke-opacity="1.0" stroke-linejoin="round"/>
<path fill="#177575" d="M395.70,271.40a2.7,2.7 0 1,0 5.4,0a2.7,2.7 0 1,0 -5.4,0ZM402.53,271.80a2.7,2.7 0 1,0 5.4,0a2.7,2.7 0 1,0 -5.4,0ZM409.37,271.80a2.7,2.7 0 1,0 5.4,0a2.7,2.7 0 1,0 -5.4,0ZM416.20,272.40a2.7,2.7 0 1,0 5.4,0a2.7,2.7 0 1,0 -5.4,0ZM423.03,272.40a2.7,2.7 0 1,0 5.4,0a2.7,2.7 0 1,0 -5.4,0ZM429.86,270.60a2.7,2.7 0 1,0 5.4,0a2.7,2.7 0 1,0 -5.4,0ZM436.69,270.90a2.7,2.7 0 1,0 5.4,0a2.7,2.7 0 1,0 -5.4,0ZM443.53,274.10a2.7,2.7 0 1,0 5.4,0a2.7,2.7 0 1,0 -5.4,0ZM450.36,276.80a2.7,2.7 0 1,0 5.4,0a2.7,2.7 0 1,0 -5.4,0ZM457.19,278.10a2.7,2.7 0 1,0 5.4,0a2.7,2.7 0 1,0 -5.4,0ZM464.02,278.10a2.7,2.7 0 1,0 5.4,0a2.7,2.7 0 1,0 -5.4,0ZM470.86,278.50a2.7,2.7 0 1,0 5.4,0a2.7,2.7 0 1,0 -5.4,0ZM477.69,279.40a2.7,2.7 0 1,0 5.4,0a2.7,2.7 0 1,0 -5.4,0ZM484.52,281.20a2.7,2.7 0 1,0 5.4,0a2.7,2.7 0 1,0 -5.4,0ZM491.35,281.50a2.7,2.7 0 1,0 5.4,0a2.7,2.7 0 1,0 -5.4,0ZM498.19,280.00a2.7,2.7 0 1,0 5.4,0a2.7,2.7 0 1,0 -5.4,0ZM505.02,279.30a2.7,2.7 0 1,0 5.4,0a2.7,2.7 0 1,0 -5.4,0ZM511.85,279.30a2.7,2.7 0 1,0 5.4,0a2.7,2.7 0 1,0 -5.4,0ZM518.68,279.30a2.7,2.7 0 1,0 5.4,0a2.7,2.7 0 1,0 -5.4,0ZM525.52,279.30a2.7,2.7 0 1,0 5.4,0a2.7,2.7 0 1,0 -5.4,0ZM532.35,278.50a2.7,2.7 0 1,0 5.4,0a2.7,2.7 0 1,0 -5.4,0ZM539.18,277.80a2.7,2.7 0 1,0 5.4,0a2.7,2.7 0 1,0 -5.4,0ZM546.01,277.80a2.7,2.7 0 1,0 5.4,0a2.7,2.7 0 1,0 -5.4,0ZM552.85,276.80a2.7,2.7 0 1,0 5.4,0a2.7,2.7 0 1,0 -5.4,0ZM559.68,278.20a2.7,2.7 0 1,0 5.4,0a2.7,2.7 0 1,0 -5.4,0ZM566.51,278.20a2.7,2.7 0 1,0 5.4,0a2.7,2.7 0 1,0 -5.4,0ZM573.34,278.20a2.7,2.7 0 1,0 5.4,0a2.7,2.7 0 1,0 -5.4,0ZM580.18,277.40a2.7,2.7 0 1,0 5.4,0a2.7,2.7 0 1,0 -5.4,0ZM587.01,277.40a2.7,2.7 0 1,0 5.4,0a2.7,2.7 0 1,0 -5.4,0ZM593.84,277.80a2.7,2.7 0 1,0 5.4,0a2.7,2.7 0 1,0 -5.4,0ZM600.67,276.30a2.7,2.7 0 1,0 5.4,0a2.7,2.7 0 1,0 -5.4,0ZM607.51,275.30a2.7,2.7 0 1,0 5.4,0a2.7,2.7 0 1,0 -5.4,0ZM614.34,275.30a2.7,2.7 0 1,0 5.4,0a2.7,2.7 0 1,0 -5.4,0ZM621.17,275.30a2.7,2.7 0 1,0 5.4,0a2.7,2.7 0 1,0 -5.4,0ZM628.00,276.30a2.7,2.7 0 1,0 5.4,0a2.7,2.7 0 1,0 -5.4,0ZM634.84,275.00a2.7,2.7 0 1,0 5.4,0a2.7,2.7 0 1,0 -5.4,0ZM641.67,273.50a2.7,2.7 0 1,0 5.4,0a2.7,2.7 0 1,0 -5.4,0ZM648.50,276.00a2.7,2.7 0 1,0 5.4,0a2.7,2.7 0 1,0 -5.4,0ZM655.33,276.40a2.7,2.7 0 1,0 5.4,0a2.7,2.7 0 1,0 -5.4,0ZM662.17,277.00a2.7,2.7 0 1,0 5.4,0a2.7,2.7 0 1,0 -5.4,0ZM669.00,275.60a2.7,2.7 0 1,0 5.4,0a2.7,2.7 0 1,0 -5.4,0Z"/>
<path d="M398.4,255.0 L405.2,248.5 L412.1,243.0 L418.9,237.0 L425.7,232.2 L432.6,230.5 L439.4,226.3 L446.2,224.0 L453.1,221.7 L459.9,221.0 L466.7,219.5 L473.6,219.9 L480.4,217.5 L487.2,214.0 L494.1,215.9 L500.9,214.4 L507.7,215.5 L514.6,214.6 L521.4,213.6 L528.2,215.9 L535.0,219.5 L541.9,218.5 L548.7,219.4 L555.5,218.6 L562.4,220.3 L569.2,222.5 L576.0,218.7 L582.9,218.5 L589.7,218.4 L596.5,217.7 L603.4,219.5 L610.2,221.7 L617.0,221.1 L623.9,220.4 L630.7,219.5 L637.5,218.6 L644.4,221.5 L651.2,219.6 L658.0,221.6 L664.9,220.4 L671.7,222.5" fill="none" stroke="#c4968a" stroke-width="1.0" stroke-opacity="1.0" stroke-linejoin="round"/>
<path fill="#ba8270" d="M395.55,253.25L401.25,253.25L398.40,258.50ZM402.38,246.75L408.08,246.75L405.23,252.00ZM409.21,241.25L414.92,241.25L412.06,246.50ZM416.05,235.25L421.75,235.25L418.90,240.50ZM422.88,230.45L428.58,230.45L425.73,235.70ZM429.71,228.75L435.41,228.75L432.56,234.00ZM436.54,224.55L442.25,224.55L439.39,229.80ZM443.38,222.25L449.08,222.25L446.23,227.50ZM450.21,219.95L455.91,219.95L453.06,225.20ZM457.04,219.25L462.74,219.25L459.89,224.50ZM463.87,217.75L469.57,217.75L466.72,223.00ZM470.71,218.15L476.41,218.15L473.56,223.40ZM477.54,215.75L483.24,215.75L480.39,221.00ZM484.37,212.25L490.07,212.25L487.22,217.50ZM491.20,214.15L496.90,214.15L494.05,219.40ZM498.04,212.65L503.74,212.65L500.89,217.90ZM504.87,213.75L510.57,213.75L507.72,219.00ZM511.70,212.85L517.40,212.85L514.55,218.10ZM518.53,211.85L524.24,211.85L521.38,217.10ZM525.37,214.15L531.07,214.15L528.22,219.40ZM532.20,217.75L537.90,217.75L535.05,223.00ZM539.03,216.75L544.73,216.75L541.88,222.00ZM545.86,217.65L551.56,217.65L548.71,222.90ZM552.70,216.85L558.40,216.85L555.55,222.10ZM559.53,218.55L565.23,218.55L562.38,223.80ZM566.36,220.75L572.06,220.75L569.21,226.00ZM573.19,216.95L578.89,216.95L576.04,222.20ZM580.03,216.75L585.73,216.75L582.88,222.00ZM586.86,216.65L592.56,216.65L589.71,221.90ZM593.69,215.95L599.39,215.95L596.54,221.20ZM600.52,217.75L606.23,217.75L603.38,223.00ZM607.36,219.95L613.06,219.95L610.21,225.20ZM614.19,219.35L619.89,219.35L617.04,224.60ZM621.02,218.65L626.72,218.65L623.87,223.90ZM627.85,217.75L633.55,217.75L630.70,223.00ZM634.69,216.85L640.39,216.85L637.54,222.10ZM641.52,219.75L647.22,219.75L644.37,225.00ZM648.35,217.85L654.05,217.85L651.20,223.10ZM655.18,219.85L660.88,219.85L658.03,225.10ZM662.02,218.65L667.72,218.65L664.87,223.90ZM668.85,220.75L674.55,220.75L671.70,226.00Z"/>
<path d="M398.4,253.3 L405.2,246.8 L412.1,238.8 L418.9,230.6 L425.7,222.3 L432.6,213.8 L439.4,205.6 L446.2,197.8 L453.1,188.5 L459.9,178.4 L466.7,171.8 L473.6,172.1 L480.4,160.9 L487.2,156.5 L494.1,158.5 L500.9,152.3 L507.7,140.7 L514.6,131.8 L521.4,128.5 L528.2,126.3 L535.0,125.3 L541.9,121.9 L548.7,119.7 L555.5,122.4 L562.4,120.3 L569.2,123.5 L576.0,125.7 L582.9,132.4 L589.7,131.2 L596.5,130.1 L603.4,127.2 L610.2,126.2 L617.0,125.6 L623.9,120.6 L630.7,117.9 L637.5,120.8 L644.4,117.4 L651.2,109.8 L658.0,111.2 L664.9,115.1 L671.7,114.9" fill="none" stroke="#c8a2dc" stroke-width="1.0" stroke-opacity="1.0" stroke-linejoin="round"/>
<path fill="#b680cf" d="M398.40,250.00L401.40,253.30L398.40,256.60L395.40,253.30ZM405.23,243.50L408.23,246.80L405.23,250.10L402.23,246.80ZM412.06,235.50L415.06,238.80L412.06,242.10L409.06,238.80ZM418.90,227.30L421.90,230.60L418.90,233.90L415.90,230.60ZM425.73,219.00L428.73,222.30L425.73,225.60L422.73,222.30ZM432.56,210.50L435.56,213.80L432.56,217.10L429.56,213.80ZM439.39,202.30L442.39,205.60L439.39,208.90L436.39,205.60ZM446.23,194.50L449.23,197.80L446.23,201.10L443.23,197.80ZM453.06,185.20L456.06,188.50L453.06,191.80L450.06,188.50ZM459.89,175.10L462.89,178.40L459.89,181.70L456.89,178.40ZM466.72,168.50L469.72,171.80L466.72,175.10L463.72,171.80ZM473.56,168.80L476.56,172.10L473.56,175.40L470.56,172.10ZM480.39,157.60L483.39,160.90L480.39,164.20L477.39,160.90ZM487.22,153.20L490.22,156.50L487.22,159.80L484.22,156.50ZM494.05,155.20L497.05,158.50L494.05,161.80L491.05,158.50ZM500.89,149.00L503.89,152.30L500.89,155.60L497.89,152.30ZM507.72,137.40L510.72,140.70L507.72,144.00L504.72,140.70ZM514.55,128.50L517.55,131.80L514.55,135.10L511.55,131.80ZM521.38,125.20L524.38,128.50L521.38,131.80L518.38,128.50ZM528.22,123.00L531.22,126.30L528.22,129.60L525.22,126.30ZM535.05,122.00L538.05,125.30L535.05,128.60L532.05,125.30ZM541.88,118.60L544.88,121.90L541.88,125.20L538.88,121.90ZM548.71,116.40L551.71,119.70L548.71,123.00L545.71,119.70ZM555.55,119.10L558.55,122.40L555.55,125.70L552.55,122.40ZM562.38,117.00L565.38,120.30L562.38,123.60L559.38,120.30ZM569.21,120.20L572.21,123.50L569.21,126.80L566.21,123.50ZM576.04,122.40L579.04,125.70L576.04,129.00L573.04,125.70ZM582.88,129.10L585.88,132.40L582.88,135.70L579.88,132.40ZM589.71,127.90L592.71,131.20L589.71,134.50L586.71,131.20ZM596.54,126.80L599.54,130.10L596.54,133.40L593.54,130.10ZM603.38,123.90L606.38,127.20L603.38,130.50L600.38,127.20ZM610.21,122.90L613.21,126.20L610.21,129.50L607.21,126.20ZM617.04,122.30L620.04,125.60L617.04,128.90L614.04,125.60ZM623.87,117.30L626.87,120.60L623.87,123.90L620.87,120.60ZM630.70,114.60L633.70,117.90L630.70,121.20L627.70,117.90ZM637.54,117.50L640.54,120.80L637.54,124.10L634.54,120.80ZM644.37,114.10L647.37,117.40L644.37,120.70L641.37,117.40ZM651.20,106.50L654.20,109.80L651.20,113.10L648.20,109.80ZM658.03,107.90L661.03,111.20L658.03,114.50L655.03,111.20ZM664.87,111.80L667.87,115.10L664.87,118.40L661.87,115.10ZM671.70,111.60L674.70,114.90L671.70,118.20L668.70,114.90Z"/>
<path d="M398.4,324.6 L405.2,254.0 L412.1,247.4 L418.9,239.5 L425.7,231.9 L432.6,224.1 L439.4,214.6 L446.2,205.0 L453.1,193.1 L459.9,180.9 L466.7,169.1 L473.6,156.6 L480.4,147.0 L487.2,139.7 L494.1,126.6 L500.9,116.2 L507.7,112.9 L514.6,113.1 L521.4,102.3 L528.2,91.5 L535.0,88.5 L541.9,82.6 L548.7,75.7 L555.5,72.1 L562.4,65.0 L569.2,59.1 L576.0,61.8 L582.9,51.5 L589.7,51.2 L596.5,58.5 L603.4,59.0 L610.2,55.0 L617.0,78.1 L623.9,100.6 L630.7,117.2 L637.5,134.8 L644.4,147.9 L651.2,161.2 L658.0,171.0 L664.9,181.0 L671.7,188.9" fill="none" stroke="#2a80c4" stroke-width="1.0" stroke-opacity="1.0" stroke-linejoin="round"/>
<path fill="#1270b9" d="M398.40,321.55L399.16,323.55L401.30,323.66L399.64,325.00L400.19,327.07L398.40,325.90L396.61,327.07L397.16,325.00L395.50,323.66L397.64,323.55ZM405.23,250.95L406.00,252.95L408.13,253.06L406.47,254.40L407.03,256.47L405.23,255.30L403.44,256.47L404.00,254.40L402.33,253.06L404.47,252.95ZM412.06,244.35L412.83,246.35L414.97,246.46L413.30,247.80L413.86,249.87L412.06,248.70L410.27,249.87L410.83,247.80L409.16,246.46L411.30,246.35ZM418.90,236.45L419.66,238.45L421.80,238.56L420.13,239.90L420.69,241.97L418.90,240.80L417.10,241.97L417.66,239.90L416.00,238.56L418.13,238.45ZM425.73,228.85L426.49,230.85L428.63,230.96L426.97,232.30L427.52,234.37L425.73,233.20L423.94,234.37L424.49,232.30L422.83,230.96L424.97,230.85ZM432.56,221.05L433.33,223.05L435.46,223.16L433.80,224.50L434.36,226.57L432.56,225.40L430.77,226.57L431.33,224.50L429.66,223.16L431.80,223.05ZM439.39,211.55L440.16,213.55L442.30,213.66L440.63,215.00L441.19,217.07L439.39,215.90L437.60,217.07L438.16,215.00L436.49,213.66L438.63,213.55ZM446.23,201.95L446.99,203.95L449.13,204.06L447.46,205.40L448.02,207.47L446.23,206.30L444.43,207.47L444.99,205.40L443.33,204.06L445.46,203.95ZM453.06,190.05L453.82,192.05L455.96,192.16L454.30,193.50L454.85,195.57L453.06,194.40L451.27,195.57L451.82,193.50L450.16,192.16L452.30,192.05ZM459.89,177.85L460.66,179.85L462.79,179.96L461.13,181.30L461.69,183.37L459.89,182.20L458.10,183.37L458.66,181.30L456.99,179.96L459.13,179.85ZM466.72,166.05L467.49,168.05L469.63,168.16L467.96,169.50L468.52,171.57L466.72,170.40L464.93,171.57L465.49,169.50L463.82,168.16L465.96,168.05ZM473.56,153.55L474.32,155.55L476.46,155.66L474.79,157.00L475.35,159.07L473.56,157.90L471.76,159.07L472.32,157.00L470.66,155.66L472.79,155.55ZM480.39,143.95L481.15,145.95L483.29,146.06L481.63,147.40L482.18,149.47L480.39,148.30L478.60,149.47L479.15,147.40L477.49,146.06L479.63,145.95ZM487.22,136.65L487.99,138.65L490.12,138.76L488.46,140.10L489.02,142.17L487.22,141.00L485.43,142.17L485.99,140.10L484.32,138.76L486.46,138.65ZM494.05,123.55L494.82,125.55L496.96,125.66L495.29,127.00L495.85,129.07L494.05,127.90L492.26,129.07L492.82,127.00L491.15,125.66L493.29,125.55ZM500.89,113.15L501.65,115.15L503.79,115.26L502.12,116.60L502.68,118.67L500.89,117.50L499.09,118.67L499.65,116.60L497.99,115.26L500.12,115.15ZM507.72,109.85L508.48,111.85L510.62,111.96L508.96,113.30L509.51,115.37L507.72,114.20L505.93,115.37L506.48,113.30L504.82,111.96L506.96,111.85ZM514.55,110.05L515.32,112.05L517.45,112.16L515.79,113.50L516.35,115.57L514.55,114.40L512.76,115.57L513.32,113.50L511.65,112.16L513.79,112.05ZM521.38,99.25L522.15,101.25L524.29,101.36L522.62,102.70L523.18,104.77L521.38,103.60L519.59,104.77L520.15,102.70L518.48,101.36L520.62,101.25ZM528.22,88.45L528.98,90.45L531.12,90.56L529.45,91.90L530.01,93.97L528.22,92.80L526.42,93.97L526.98,91.90L525.32,90.56L527.45,90.45ZM535.05,85.45L535.81,87.45L537.95,87.56L536.29,88.90L536.84,90.97L535.05,89.80L533.26,90.97L533.81,88.90L532.15,87.56L534.29,87.45ZM541.88,79.55L542.65,81.55L544.78,81.66L543.12,83.00L543.68,85.07L541.88,83.90L540.09,85.07L540.65,83.00L538.98,81.66L541.12,81.55ZM548.71,72.65L549.48,74.65L551.62,74.76L549.95,76.10L550.51,78.17L548.71,77.00L546.92,78.17L547.48,76.10L545.81,74.76L547.95,74.65ZM555.55,69.05L556.31,71.05L558.45,71.16L556.78,72.50L557.34,74.57L555.55,73.40L553.75,74.57L554.31,72.50L552.65,71.16L554.78,71.05ZM562.38,61.95L563.14,63.95L565.28,64.06L563.62,65.40L564.17,67.47L562.38,66.30L560.59,67.47L561.14,65.40L559.48,64.06L561.62,63.95ZM569.21,56.05L569.98,58.05L572.11,58.16L570.45,59.50L571.01,61.57L569.21,60.40L567.42,61.57L567.98,59.50L566.31,58.16L568.45,58.05ZM576.04,58.75L576.81,60.75L578.95,60.86L577.28,62.20L577.84,64.27L576.04,63.10L574.25,64.27L574.81,62.20L573.14,60.86L575.28,60.75ZM582.88,48.45L583.64,50.45L585.78,50.56L584.11,51.90L584.67,53.97L582.88,52.80L581.08,53.97L581.64,51.90L579.98,50.56L582.11,50.45ZM589.71,48.15L590.47,50.15L592.61,50.26L590.95,51.60L591.50,53.67L589.71,52.50L587.92,53.67L588.47,51.60L586.81,50.26L588.95,50.15ZM596.54,55.45L597.31,57.45L599.44,57.56L597.78,58.90L598.34,60.97L596.54,59.80L594.75,60.97L595.31,58.90L593.64,57.56L595.78,57.45ZM603.38,55.95L604.14,57.95L606.28,58.06L604.61,59.40L605.17,61.47L603.38,60.30L601.58,61.47L602.14,59.40L600.47,58.06L602.61,57.95ZM610.21,51.95L610.97,53.95L613.11,54.06L611.44,55.40L612.00,57.47L610.21,56.30L608.41,57.47L608.97,55.40L607.31,54.06L609.44,53.95ZM617.04,75.05L617.80,77.05L619.94,77.16L618.28,78.50L618.83,80.57L617.04,79.40L615.25,80.57L615.80,78.50L614.14,77.16L616.28,77.05ZM623.87,97.55L624.64,99.55L626.77,99.66L625.11,101.00L625.67,103.07L623.87,101.90L622.08,103.07L622.64,101.00L620.97,99.66L623.11,99.55ZM630.70,114.15L631.47,116.15L633.61,116.26L631.94,117.60L632.50,119.67L630.70,118.50L628.91,119.67L629.47,117.60L627.80,116.26L629.94,116.15ZM637.54,131.75L638.30,133.75L640.44,133.86L638.77,135.20L639.33,137.27L637.54,136.10L635.74,137.27L636.30,135.20L634.64,133.86L636.77,133.75ZM644.37,144.85L645.13,146.85L647.27,146.96L645.61,148.30L646.16,150.37L644.37,149.20L642.58,150.37L643.13,148.30L641.47,146.96L643.61,146.85ZM651.20,158.15L651.97,160.15L654.10,160.26L652.44,161.60L653.00,163.67L651.20,162.50L649.41,163.67L649.97,161.60L648.30,160.26L650.44,160.15ZM658.03,167.95L658.80,169.95L660.94,170.06L659.27,171.40L659.83,173.47L658.03,172.30L656.24,173.47L656.80,171.40L655.13,170.06L657.27,169.95ZM664.87,177.95L665.63,179.95L667.77,180.06L666.10,181.40L666.66,183.47L664.87,182.30L663.07,183.47L663.63,181.40L661.97,180.06L664.10,179.95ZM671.70,185.85L672.46,187.85L674.60,187.96L672.94,189.30L673.49,191.37L671.70,190.20L669.91,191.37L670.46,189.30L668.80,187.96L670.94,187.85Z"/>
<text x="195.5" y="13.0" font-size="16.8" text-anchor="middle">(a)</text>
<text x="541.2" y="13.0" font-size="16.8" text-anchor="middle">(b)</text>
<text transform="translate(9.1,169.3) rotate(-90)" font-weight="bold" text-anchor="middle">Trading volume (kilo tce)</text>
<text transform="translate(355.9,162.9) rotate(-90)" font-weight="bold" text-anchor="middle">Trading price (Yuan)</text>
</g>
</svg>
</body></html>
